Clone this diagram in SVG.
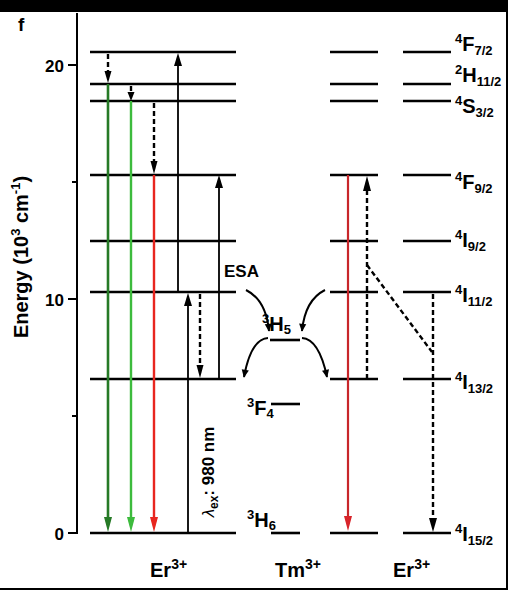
<svg xmlns="http://www.w3.org/2000/svg" width="508" height="590" viewBox="0 0 508 590">
<style>
text{font-family:"Liberation Sans",Arial,sans-serif;font-weight:bold;fill:#000}
.lv{stroke:#000;stroke-width:2.6}
.ax{stroke:#000;stroke-width:2;fill:none}
.sol{stroke:#000;stroke-width:1.8;fill:none}
.dash{stroke:#000;stroke-width:2.4;stroke-dasharray:5 3;fill:none}
.crv{stroke:#000;stroke-width:2;fill:none;marker-end:url(#ah)}
.lab{font-size:20px}
.sm{font-size:13px}
.blk{fill:#000}
</style>
<defs>
<marker id="ah" viewBox="0 0 10 10" refX="9" refY="5" markerWidth="9" markerHeight="8" markerUnits="userSpaceOnUse" orient="auto"><path d="M0,0.5 L10,5 L0,9.5 z" fill="#000"/></marker>
</defs>
<rect x="0" y="0" width="508" height="590" fill="#fff"/>
<rect x="0" y="0" width="508" height="12" fill="#000"/>
<rect x="506" y="0" width="2" height="590" fill="#000"/>
<rect x="0" y="588" width="508" height="2" fill="#000"/>

<g id="axis">
<line class="ax" x1="77" y1="13" x2="77" y2="534"/>
<line class="ax" x1="68" y1="65" x2="77" y2="65"/>
<line class="ax" x1="72" y1="182" x2="77" y2="182"/>
<line class="ax" x1="68" y1="299" x2="77" y2="299"/>
<line class="ax" x1="72" y1="416" x2="77" y2="416"/>
<line class="ax" x1="68" y1="533" x2="77" y2="533"/>
<text x="64" y="72" font-size="17" text-anchor="end">20</text>
<text x="64" y="306" font-size="17" text-anchor="end">10</text>
<text x="64" y="540" font-size="17" text-anchor="end">0</text>
<text transform="translate(28,257) rotate(-90)" text-anchor="middle" font-size="20">Energy (10<tspan font-size="13" dy="-8">3</tspan><tspan dy="8"> cm</tspan><tspan font-size="13" dy="-8">-1</tspan><tspan dy="8">)</tspan></text>
<text x="18" y="31" font-size="19">f</text>
</g>

<g id="er-left-levels">
<line class="lv" x1="90" y1="52" x2="236" y2="52"/>
<line class="lv" x1="90" y1="84" x2="236" y2="84"/>
<line class="lv" x1="90" y1="101" x2="236" y2="101"/>
<line class="lv" x1="90" y1="175" x2="236" y2="175"/>
<line class="lv" x1="90" y1="241" x2="236" y2="241"/>
<line class="lv" x1="90" y1="292" x2="236" y2="292"/>
<line class="lv" x1="90" y1="379" x2="236" y2="379"/>
<line class="lv" x1="90" y1="533" x2="236" y2="533"/>
<text x="150" y="577" font-size="20">Er<tspan font-size="14" dy="-8">3+</tspan></text>
</g>

<g id="tm-levels">
<line class="lv" x1="270" y1="340" x2="300" y2="340"/>
<line class="lv" x1="271" y1="404" x2="300" y2="404"/>
<line class="lv" x1="271" y1="533" x2="300" y2="533"/>
<text x="262" y="331" class="lab"><tspan class="sm" dy="-8">3</tspan><tspan dy="8">H</tspan><tspan class="sm" dy="3">5</tspan></text>
<text x="247" y="415" class="lab"><tspan class="sm" dy="-8">3</tspan><tspan dy="8">F</tspan><tspan class="sm" dy="3">4</tspan></text>
<text x="247" y="527" class="lab"><tspan class="sm" dy="-8">3</tspan><tspan dy="8">H</tspan><tspan class="sm" dy="3">6</tspan></text>
<text x="275" y="577" font-size="20">Tm<tspan font-size="14" dy="-8">3+</tspan></text>
</g>

<g id="er-mid-levels">
<line class="lv" x1="330" y1="52" x2="378" y2="52"/>
<line class="lv" x1="330" y1="84" x2="378" y2="84"/>
<line class="lv" x1="330" y1="101" x2="378" y2="101"/>
<line class="lv" x1="330" y1="175" x2="378" y2="175"/>
<line class="lv" x1="330" y1="241" x2="378" y2="241"/>
<line class="lv" x1="330" y1="292" x2="378" y2="292"/>
<line class="lv" x1="330" y1="379" x2="378" y2="379"/>
<line class="lv" x1="330" y1="533" x2="378" y2="533"/>
</g>

<g id="er-right-levels">
<line class="lv" x1="403" y1="52" x2="451" y2="52"/>
<line class="lv" x1="403" y1="84" x2="451" y2="84"/>
<line class="lv" x1="403" y1="101" x2="451" y2="101"/>
<line class="lv" x1="403" y1="175" x2="451" y2="175"/>
<line class="lv" x1="403" y1="241" x2="451" y2="241"/>
<line class="lv" x1="403" y1="292" x2="451" y2="292"/>
<line class="lv" x1="403" y1="379" x2="451" y2="379"/>
<line class="lv" x1="403" y1="533" x2="451" y2="533"/>
<text x="393" y="577" font-size="20">Er<tspan font-size="14" dy="-8">3+</tspan></text>
</g>

<g id="level-labels">
<text x="455" y="51" class="lab"><tspan class="sm" dy="-8">4</tspan><tspan dy="8">F</tspan><tspan class="sm" dy="4">7/2</tspan></text>
<text x="455" y="82" class="lab"><tspan class="sm" dy="-8">2</tspan><tspan dy="8">H</tspan><tspan class="sm" dy="4">11/2</tspan></text>
<text x="455" y="113" class="lab"><tspan class="sm" dy="-8">4</tspan><tspan dy="8">S</tspan><tspan class="sm" dy="4">3/2</tspan></text>
<text x="455" y="189" class="lab"><tspan class="sm" dy="-8">4</tspan><tspan dy="8">F</tspan><tspan class="sm" dy="4">9/2</tspan></text>
<text x="455" y="247" class="lab"><tspan class="sm" dy="-8">4</tspan><tspan dy="8">I</tspan><tspan class="sm" dy="4">9/2</tspan></text>
<text x="455" y="302" class="lab"><tspan class="sm" dy="-8">4</tspan><tspan dy="8">I</tspan><tspan class="sm" dy="4">11/2</tspan></text>
<text x="455" y="389" class="lab"><tspan class="sm" dy="-8">4</tspan><tspan dy="8">I</tspan><tspan class="sm" dy="4">13/2</tspan></text>
<text x="455" y="541" class="lab"><tspan class="sm" dy="-8">4</tspan><tspan dy="8">I</tspan><tspan class="sm" dy="4">15/2</tspan></text>
</g>

<g id="connectors">
<line x1="108" y1="84" x2="108" y2="520" stroke="#267a26" stroke-width="2.6"/>
<polygon points="104,517 112,517 108,532" fill="#267a26"/>
<line x1="131" y1="101" x2="131" y2="520" stroke="#3dbb3d" stroke-width="2.4"/>
<polygon points="127,517 135,517 131,532" fill="#3dbb3d"/>
<line x1="154" y1="175" x2="154" y2="520" stroke="#e8261f" stroke-width="2.4"/>
<polygon points="150,517 158,517 154,532" fill="#e8261f"/>
<line x1="348" y1="175" x2="348" y2="520" stroke="#c8262a" stroke-width="2.2"/>
<polygon points="344,516 352,516 348,531" fill="#d8242a"/>
<line class="dash" x1="108" y1="54" x2="108" y2="72"/>
<polygon class="blk" points="104.5,71 111.5,71 108,83"/>
<line class="dash" x1="131" y1="86" x2="131" y2="93"/>
<polygon class="blk" points="127.5,92 134.5,92 131,101"/>
<line class="dash" x1="154" y1="103" x2="154" y2="162"/>
<polygon class="blk" points="150.5,161 157.5,161 154,174"/>
<line class="dash" x1="200" y1="294" x2="200" y2="366"/>
<polygon class="blk" points="196.5,365 203.5,365 200,378"/>
<line class="dash" x1="367" y1="379" x2="367" y2="190"/>
<polygon class="blk" points="363,191 371,191 367,176"/>
<line class="dash" x1="367" y1="265" x2="432" y2="352"/>
<line class="dash" x1="433" y1="294" x2="433" y2="520"/>
<polygon class="blk" points="429,518 437,518 433,532"/>
<line class="sol" x1="178" y1="292" x2="178" y2="64"/>
<polygon class="blk" points="174,66 182,66 178,53"/>
<line class="sol" x1="219" y1="379" x2="219" y2="186"/>
<polygon class="blk" points="215,188 223,188 219,175"/>
<line class="sol" x1="188" y1="533" x2="188" y2="304"/>
<polygon class="blk" points="184,306 192,306 188,293"/>
<path class="crv" d="M246,290 Q266,300 269,331"/>
<path class="crv" d="M325,290 Q305,300 302,331"/>
<path class="crv" d="M268,338 Q251,339 244,377"/>
<path class="crv" d="M302,338 Q319,339 327,377"/>
</g>

<g id="annotations">
<text x="224" y="277" font-size="17">ESA</text>
<text transform="translate(214,472) rotate(-90)" text-anchor="middle" font-size="17"><tspan font-style="italic" font-weight="normal">λ</tspan><tspan font-size="12" dy="4">ex</tspan><tspan dy="-4">: 980 nm</tspan></text>
</g>
</svg>
